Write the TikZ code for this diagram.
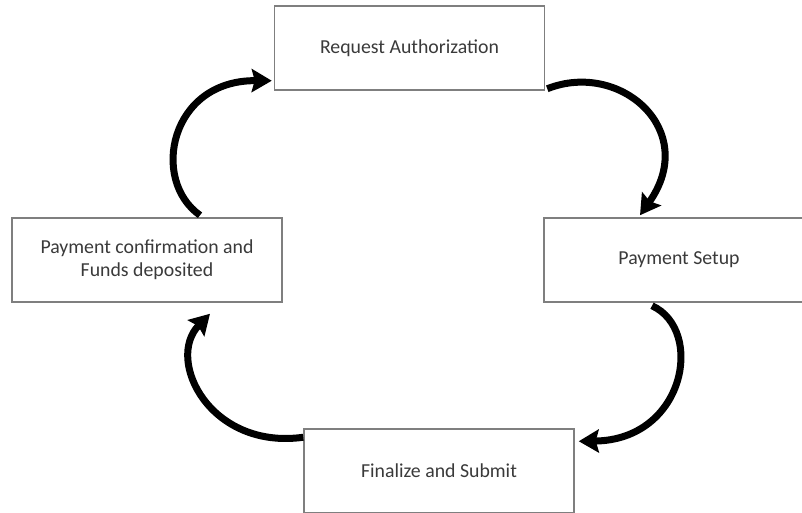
\documentclass[tikz,border=0pt]{standalone}
\usepackage{fontspec}
\setmainfont{Carlito}
\usetikzlibrary{arrows.meta,calc}
\definecolor{boxline}{HTML}{7F7F7F}
\definecolor{txt}{HTML}{3A3A3A}
\tikzset{
  stepbox/.style={draw=boxline, line width=1.5pt, fill=white, minimum width=270pt, minimum height=84pt, inner sep=0pt, align=center, text=txt, font=\fontsize{19.8}{23}\selectfont},
  flow/.style={line width=7pt, line cap=butt, -{Stealth[length=20pt,width=23pt,inset=3pt]}}
}
\begin{document}
\begin{tikzpicture}[x=1pt,y=-1pt]
\useasboundingbox (0,0) rectangle (802,512);
\clip (0,0) rectangle (802,512);
\node[stepbox] (ra) at (409.5,48) {Request Authorization};
\node[stepbox] (ps) at (679,260) {Payment Setup};
\node[stepbox] (pc) at (147,260) {Payment confirmation and\\Funds deposited};
\node[stepbox] (fs) at (439,471) {Finalize and Submit};
% arrows
\draw[flow] ($(pc.north)+(53,-2)$) .. controls (150,180) and (170,80) .. ($(ra.south west)+(-2,-10)$);
\draw[flow] ($(ra.south east)+(2,-2)$) .. controls (620,60) and (700,130) .. ($(ps.north)+(-39,-2)$);
\draw[flow] ($(ps.south)+(-27,3)$) .. controls (705,330) and (685,440) .. ($(fs.north east)+(4,13)$);
\draw[flow] ($(fs.north west)+(0,9)$) .. controls (210,450) and (165,360) .. ($(pc.south)+(63,11)$);
\end{tikzpicture}
\end{document}
